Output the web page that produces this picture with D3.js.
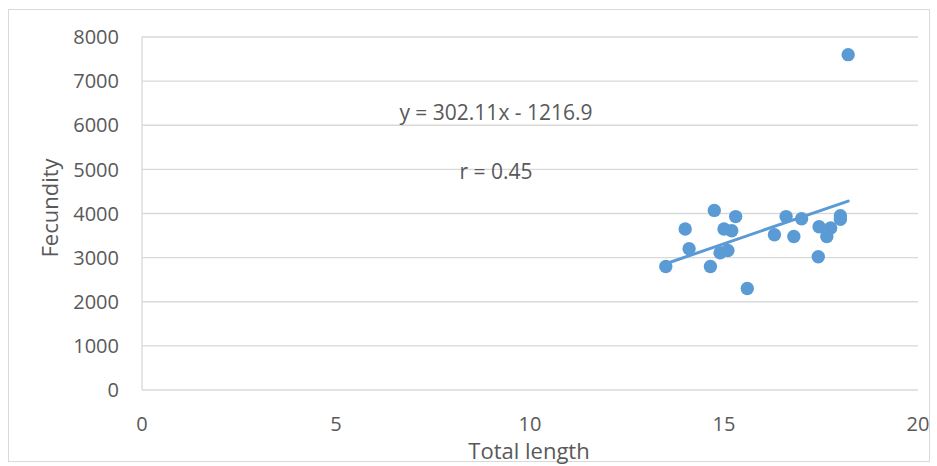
<!DOCTYPE html>
<html><head><meta charset="utf-8">
<script src="https://cdn.jsdelivr.net/npm/d3@7"></script>
<style>body{margin:0;background:#fff}svg{display:block}text{font-family:"Open Sans","Liberation Sans",sans-serif;fill:#595959}</style>
</head><body><svg id="c" width="937" height="466"></svg>
<script>
const totalLength = [13.5,14.0,14.1,14.75,14.65,15.0,15.2,15.3,14.9,15.1,15.6,16.3,16.6,16.8,17.0,17.45,17.43,17.75,17.65,18.0,18.0,18.2];
const fecundity   = [2800,3650,3200,4070,2800,3650,3610,3930,3110,3160,2300,3520,3930,3480,3880,3700,3020,3670,3480,3950,3870,7600];
const xTicks = [0,5,10,15,20];
const yTicks = [0,1000,2000,3000,4000,5000,6000,7000,8000];
const slope = 302.11, intercept = -1216.9;
const eqText = "y = 302.11x - 1216.9";
const rText = "r = 0.45";

const svg = d3.select("#c");
svg.append("rect").attr("x",8.5).attr("y",9.5).attr("width",921).attr("height",452).attr("fill","#fff").attr("stroke","#d9d9d9");
const L=142,R=918,T=37,B=390;
const x = d3.scaleLinear().domain([0,20]).range([L,R]);
const y = d3.scaleLinear().domain([0,8000]).range([B,T]);

svg.append("g").selectAll("line").data(yTicks.slice(1)).join("line")
  .attr("x1",L).attr("x2",R).attr("y1",d=>y(d)).attr("y2",d=>y(d))
  .attr("stroke","#d9d9d9").attr("stroke-width",1.3);
svg.append("line").attr("x1",L).attr("x2",L).attr("y1",T).attr("y2",B).attr("stroke","#d9d9d9").attr("stroke-width",1.3);
svg.append("line").attr("x1",L).attr("x2",R).attr("y1",B).attr("y2",B).attr("stroke","#d9d9d9").attr("stroke-width",1.3);

svg.append("g").selectAll("text").data(yTicks).join("text")
  .attr("x",119).attr("y",d=>y(d)).attr("dy","0.36em").attr("text-anchor","end")
  .attr("font-size",20).text(d=>d);
svg.append("g").selectAll("text").data(xTicks).join("text")
  .attr("x",d=>x(d)).attr("y",431).attr("text-anchor","middle")
  .attr("font-size",20).text(d=>d);

svg.append("text").attr("transform","translate(58,208) rotate(-90)").attr("text-anchor","middle")
  .attr("font-size",22).text("Fecundity");
svg.append("text").attr("x",529).attr("y",459).attr("text-anchor","middle")
  .attr("font-size",22).text("Total length");

svg.append("g").selectAll("circle").data(totalLength.map((d,i)=>[d,fecundity[i]])).join("circle")
  .attr("cx",d=>x(d[0])).attr("cy",d=>y(d[1])).attr("r",6.7).attr("fill","#5b9bd5");

const xmin=d3.min(totalLength), xmax=d3.max(totalLength);
svg.append("line").attr("x1",x(xmin)).attr("y1",y(slope*xmin+intercept))
  .attr("x2",x(xmax)).attr("y2",y(slope*xmax+intercept))
  .attr("stroke","#5b9bd5").attr("stroke-width",3).attr("stroke-linecap","round");

svg.append("text").attr("x",496).attr("y",120).attr("text-anchor","middle").attr("font-size",21).text(eqText);
svg.append("text").attr("x",496).attr("y",179).attr("text-anchor","middle").attr("font-size",21).text(rText);
</script></body></html>
